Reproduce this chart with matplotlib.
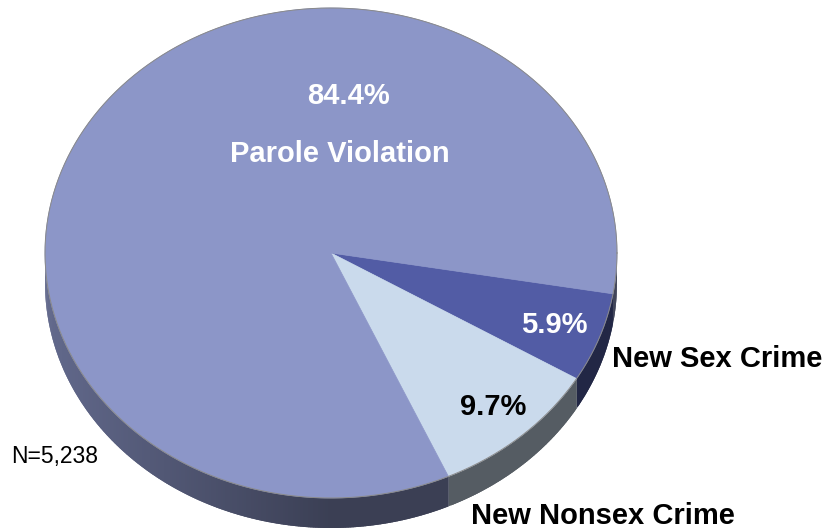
import matplotlib.pyplot as plt
import numpy as np
from matplotlib.patches import Polygon

# data, in clockwise order starting at the right edge
categories = ["New Sex Crime", "New Nonsex Crime", "Parole Violation"]
pct = [5.9, 9.7, 84.4]
n_total = "5,238"

top_colors = ["#525ca5", "#cadaec", "#8c96c8"]

# pie geometry in pixel coordinates
cx, cy = 331, 253
rx, ry = 286, 245
depth = 30
start = -9.6  # degrees, slices run clockwise from here

fig = plt.figure(figsize=(8.25, 5.29), dpi=100)
ax = fig.add_axes([0, 0, 1, 1])
ax.set_xlim(0, 825)
ax.set_ylim(529, 0)
ax.axis("off")


def edge(t, dy=0):
    return cx + rx * np.cos(np.radians(t)), cy - ry * np.sin(np.radians(t)) + dy


def shade(color, t):
    rgb = np.array(plt.matplotlib.colors.to_rgb(color))
    f = 0.42 + 0.28 * max(0.0, -np.cos(np.radians(t)))
    return tuple(rgb * f)


spans = []
a = start
for p in pct:
    sweep = p / 100 * 360
    spans.append((a - sweep, a))
    a -= sweep

# sides (only front half visible), drawn as overlapping strips for a smooth shade
for (t0, t1), col in zip(spans, top_colors):
    lo = max(t0, -180) if t1 <= 0 else t0
    ts = np.arange(t0, t1, 0.5)
    ts = np.append(ts, t1)
    for u0, u1 in zip(ts[:-1], ts[1:]):
        m = (u0 + u1) / 2
        if np.sin(np.radians(m)) > 0.02:
            continue
        u1b = min(u1 + 0.6, t1)
        pts = [edge(t) for t in np.linspace(u0, u1b, 3)]
        pts += [edge(t, depth) for t in np.linspace(u1b, u0, 3)]
        ax.add_patch(Polygon(pts, closed=True, facecolor=shade(col, m),
                             edgecolor="none", lw=0))

# top faces
for (t0, t1), col in zip(spans, top_colors):
    ts = np.linspace(t0, t1, 300)
    pts = [(cx, cy)] + [edge(t) for t in ts]
    ax.add_patch(Polygon(pts, closed=True, facecolor=col, edgecolor=col, lw=0.5))

# outline of top ellipse
tt = np.linspace(0, 360, 600)
ex, ey = zip(*[edge(t) for t in tt])
ax.plot(ex, ey, color="#8a8a8a", lw=0.7)

bold = dict(family=["Liberation Sans", "DejaVu Sans"], fontweight="bold",
            fontsize=21, ha="center", va="baseline")

ax.text(348, 104, f"{pct[2]}%", color="white", **bold)
ax.text(340, 162, categories[2], color="white", **bold)
ax.text(554, 333, f"{pct[0]}%", color="white", **bold)
ax.text(493, 415, f"{pct[1]}%", color="black", **bold)
ax.text(717, 367, categories[0], color="black", **bold)
ax.text(603, 524, categories[1], color="black", **bold)
ax.text(11, 463, f"N={n_total}", family=["Liberation Sans", "DejaVu Sans"],
        fontsize=16.5, ha="left", va="baseline", color="black")

fig.savefig("out.png", dpi=100, facecolor="white")
